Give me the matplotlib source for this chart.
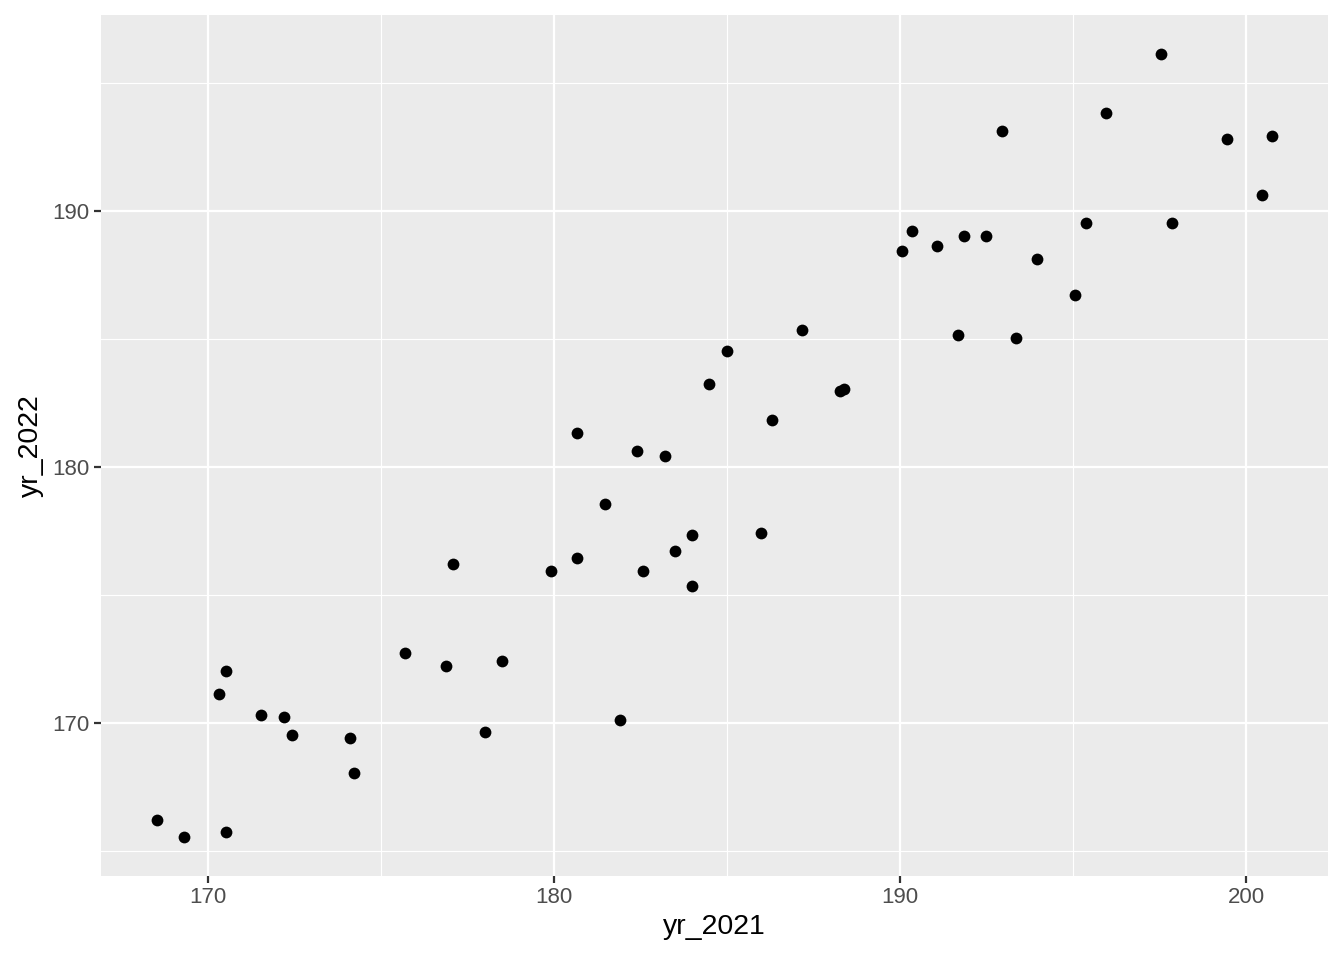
import matplotlib
matplotlib.use("Agg")
import matplotlib.pyplot as plt
from matplotlib.ticker import MultipleLocator

yr_2021 = [168.53, 169.31, 170.52, 170.32, 170.52, 171.53, 172.22, 172.43, 174.10, 174.22,
           175.69, 176.90, 177.10, 178.00, 178.49, 179.91, 180.68, 180.68, 181.49, 181.90,
           182.39, 182.59, 183.20, 183.49, 183.98, 183.98, 184.47, 184.99, 186.00, 186.29,
           187.18, 188.28, 188.39, 190.07, 190.36, 191.08, 191.69, 191.86, 192.49, 192.96,
           193.36, 193.97, 195.06, 195.38, 195.96, 197.55, 197.87, 199.45, 200.46, 200.75]
yr_2022 = [166.21, 165.55, 165.74, 171.13, 172.03, 170.31, 170.23, 169.53, 169.41, 168.05,
           172.73, 172.23, 176.21, 169.65, 172.42, 175.94, 181.33, 176.45, 178.55, 170.12,
           180.63, 175.94, 180.43, 176.72, 177.34, 175.35, 183.24, 184.53, 177.42, 181.84,
           185.35, 182.97, 183.05, 188.44, 189.22, 188.63, 185.16, 189.02, 189.02, 193.13,
           185.04, 188.13, 186.72, 189.53, 193.83, 196.13, 189.53, 192.81, 190.63, 192.93]

plt.rcParams['font.family'] = ['Liberation Sans', 'DejaVu Sans']

fig = plt.figure(figsize=(13.44, 9.6), dpi=100)
ax = fig.add_axes([0.0751, 0.0875, 0.9129, 0.8965])
ax.set_facecolor('#EBEBEB')

ax.scatter(yr_2021, yr_2022, s=72, color='black', linewidths=0, zorder=3)

# ggplot style 5% expansion
xmin, xmax = min(yr_2021), max(yr_2021)
ymin, ymax = min(yr_2022), max(yr_2022)
dx = (xmax - xmin) * 0.05
dy = (ymax - ymin) * 0.05
ax.set_xlim(xmin - dx, xmax + dx)
ax.set_ylim(ymin - dy, ymax + dy)

ax.xaxis.set_major_locator(MultipleLocator(10))
ax.yaxis.set_major_locator(MultipleLocator(10))
ax.xaxis.set_minor_locator(MultipleLocator(5))
ax.yaxis.set_minor_locator(MultipleLocator(5))
ax.grid(which='major', color='white', linewidth=1.6, zorder=0)
ax.grid(which='minor', color='white', linewidth=0.8, zorder=0)
ax.set_axisbelow(True)

for s in ax.spines.values():
    s.set_visible(False)
ax.tick_params(which='major', length=5, width=1.6, color='#333333',
               labelsize=16, labelcolor='#4D4D4D', pad=3)
ax.tick_params(which='minor', length=0)

ax.set_xlabel('yr_2021', fontsize=20.5, color='black', labelpad=4)
ax.set_ylabel('yr_2022', fontsize=20.5, color='black', labelpad=6)

fig.savefig('out.png', dpi=100)
